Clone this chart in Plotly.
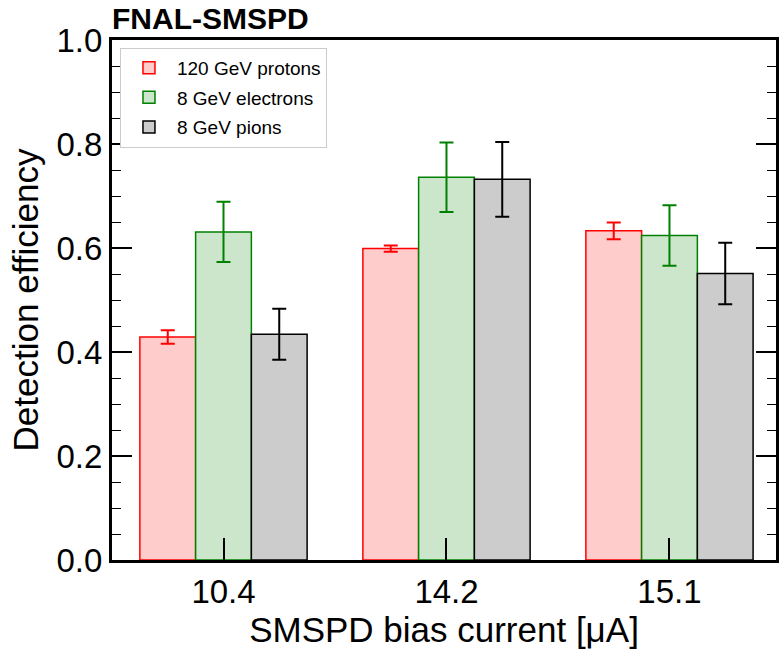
import plotly.graph_objects as go

categories = ["10.4", "14.2", "15.1"]
series_names = ["120 GeV protons", "8 GeV electrons", "8 GeV pions"]
protons = [0.429, 0.599, 0.633]
protons_err = [0.013, 0.006, 0.016]
electrons = [0.631, 0.736, 0.624]
electrons_err = [0.058, 0.067, 0.058]
pions = [0.434, 0.732, 0.551]
pions_err = [0.049, 0.072, 0.059]

values = [protons, electrons, pions]
errors = [protons_err, electrons_err, pions_err]
fills = ["#ffcccc", "#cce6cc", "#cccccc"]
edges = ["#ff0000", "#008000", "#000000"]

FONT = "Liberation Sans, Arial, Helvetica, sans-serif"

fig = go.Figure()
for i in range(3):
    fig.add_trace(go.Bar(
        x=list(range(len(categories))), y=values[i], name=series_names[i],
        marker=dict(color=fills[i], line=dict(color=edges[i], width=1.5)),
        error_y=dict(type="data", array=errors[i], color=edges[i], thickness=2, width=7),
        legendgroup=f"g{i}",
    ))

fig.update_layout(
    width=779, height=649,
    margin=dict(l=112, r=0, t=40, b=89),
    paper_bgcolor="white", plot_bgcolor="white",
    barmode="group", bargap=0.25, bargroupgap=0,
    font=dict(family=FONT, color="black"),
    title=dict(text="<b>FNAL-SMSPD</b>", x=0, xref="paper", xanchor="left",
               y=1 - 18 / 649, yref="container", yanchor="middle",
               font=dict(size=30, family=FONT, color="black")),
    legend=dict(x=0.012, y=0.985, xanchor="left", yanchor="top",
                bordercolor="#cccccc", borderwidth=1, bgcolor="white",
                font=dict(size=19, family=FONT), tracegroupgap=2,
                traceorder="grouped", itemwidth=46),
    showlegend=True,
)
fig.update_xaxes(
    range=[-0.5, -0.5 + 667 / 224], tickmode="array", tickvals=list(range(len(categories))),
    ticktext=categories, ticks="inside", ticklen=22, tickwidth=2, tickcolor="black",
    showline=True, linecolor="black", linewidth=3, mirror=True,
    showgrid=False, zeroline=False, tickfont=dict(size=33),
    title=dict(text="SMSPD bias current [μA]", font=dict(size=35), standoff=4),
)
fig.update_yaxes(
    range=[0, 1.0], dtick=0.2, tickformat=".1f", ticks="inside", ticklen=20, tickwidth=1.5,
    tickcolor="black", showline=True, linecolor="black", linewidth=3, mirror="allticks",
    showgrid=False, zeroline=False, tickfont=dict(size=33),
    minor=dict(dtick=0.05, ticks="inside", ticklen=9, tickwidth=1, tickcolor="black", showgrid=False),
    title=dict(text="Detection efficiency", font=dict(size=35), standoff=8),
)

fig.write_html("out.html")
